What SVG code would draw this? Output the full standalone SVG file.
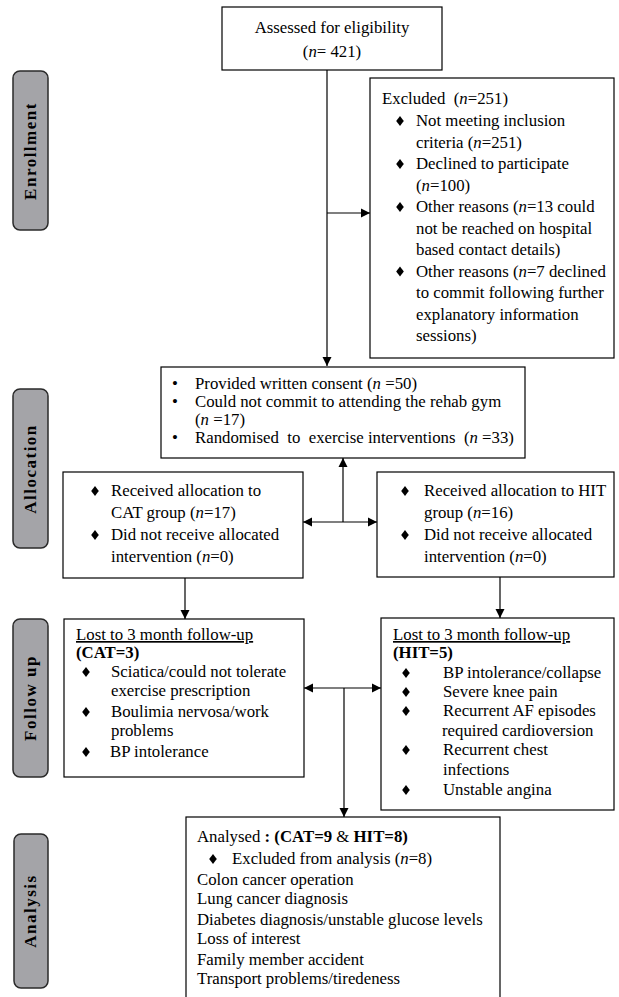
<svg xmlns="http://www.w3.org/2000/svg" xmlns:xlink="http://www.w3.org/1999/xlink" width="619" height="997" viewBox="0 0 619 997">
<defs>
<style>
.box{fill:#fff;stroke:#000;stroke-width:1.2}
.pill{fill:#a4a4a8;stroke:#2a2a2a;stroke-width:1.5}
.t{font-family:"Liberation Serif","Times New Roman",serif;font-size:16.8px;fill:#000}
.pt{font-family:"Liberation Serif","Times New Roman",serif;font-size:17px;font-weight:bold;fill:#000;letter-spacing:1.5px}
.i{font-style:italic}
.b{font-weight:bold}
.ln{stroke:#000;stroke-width:1.2;fill:none}
</style>
<polygon id="dia" points="0,-5 3.8,0 0,5 -3.8,0" fill="#000"/>
<marker id="ah" markerWidth="10" markerHeight="10" refX="9" refY="5" orient="auto" markerUnits="userSpaceOnUse">
<path d="M0,0.5 L9,5 L0,9.5 Z" fill="#000"/>
</marker>
<marker id="ahs" markerWidth="10" markerHeight="10" refX="0" refY="5" orient="auto" markerUnits="userSpaceOnUse">
<path d="M9,0.5 L0,5 L9,9.5 Z" fill="#000"/>
</marker>
</defs>
<rect width="619" height="997" fill="#fff"/>

<g id="phase-enrollment">
<rect class="pill" x="13" y="71" width="35" height="159" rx="7"/>
<text class="pt" transform="translate(36,151) rotate(-90)" text-anchor="middle">Enrollment</text>
</g>
<g id="phase-allocation">
<rect class="pill" x="13" y="389" width="35" height="159" rx="7"/>
<text class="pt" transform="translate(36,469) rotate(-90)" text-anchor="middle">Allocation</text>
</g>
<g id="phase-followup">
<rect class="pill" x="13" y="619" width="35" height="158" rx="7"/>
<text class="pt" transform="translate(36,698) rotate(-90)" text-anchor="middle">Follow up</text>
</g>
<g id="phase-analysis">
<rect class="pill" x="14" y="834" width="34" height="154" rx="7"/>
<text class="pt" transform="translate(36,911) rotate(-90)" text-anchor="middle">Analysis</text>
</g>

<g id="connectors">
<line class="ln" x1="327" y1="70" x2="327" y2="366" marker-end="url(#ah)"/>
<line class="ln" x1="327" y1="213" x2="370" y2="213" marker-end="url(#ah)"/>
<line class="ln" x1="343" y1="522" x2="343" y2="458" marker-end="url(#ah)"/>
<line class="ln" x1="303" y1="522" x2="377" y2="522" marker-start="url(#ahs)" marker-end="url(#ah)"/>
<line class="ln" x1="185" y1="578" x2="185" y2="619" marker-end="url(#ah)"/>
<line class="ln" x1="500" y1="577" x2="500" y2="618" marker-end="url(#ah)"/>
<line class="ln" x1="304" y1="688" x2="381" y2="688" marker-start="url(#ahs)" marker-end="url(#ah)"/>
<line class="ln" x1="344" y1="688" x2="344" y2="817" marker-end="url(#ah)"/>
</g>

<g id="assessed">
<rect class="box" x="222" y="7" width="220" height="63"/>
<text class="t" x="332" y="33" text-anchor="middle">Assessed for eligibility</text>
<text class="t" x="332" y="57" text-anchor="middle">(<tspan class="i">n</tspan>= 421)</text>
</g>

<g id="excluded">
<rect class="box" x="370" y="78" width="244" height="280"/>
<text class="t" x="382" y="104" xml:space="preserve">Excluded  (<tspan class="i">n</tspan>=251)</text>
<use href="#dia" x="400" y="121"/>
<text class="t" x="416" y="126">Not meeting inclusion</text>
<text class="t" x="416" y="147.5">criteria (<tspan class="i">n</tspan>=251)</text>
<use href="#dia" x="400" y="164"/>
<text class="t" x="416" y="169">Declined to participate</text>
<text class="t" x="416" y="190.5">(<tspan class="i">n</tspan>=100)</text>
<use href="#dia" x="400" y="207"/>
<text class="t" x="416" y="212">Other reasons (<tspan class="i">n</tspan>=13 could</text>
<text class="t" x="416" y="233.5">not be reached on hospital</text>
<text class="t" x="416" y="255">based contact details)</text>
<use href="#dia" x="400" y="271.5"/>
<text class="t" x="416" y="276.5">Other reasons (<tspan class="i">n</tspan>=7 declined</text>
<text class="t" x="416" y="298">to commit following further</text>
<text class="t" x="416" y="319.5">explanatory information</text>
<text class="t" x="416" y="341">sessions)</text>
</g>

<g id="consent">
<rect class="box" x="161" y="367" width="364" height="91"/>
<text class="t" x="172" y="389">•</text>
<text class="t" x="195" y="389">Provided written consent (<tspan class="i">n</tspan> =50)</text>
<text class="t" x="172" y="407">•</text>
<text class="t" x="195" y="407">Could not commit to attending the rehab gym</text>
<text class="t" x="195" y="425">(<tspan class="i">n</tspan> =17)</text>
<text class="t" x="172" y="443">•</text>
<text class="t" x="195" y="443" xml:space="preserve">Randomised  to  exercise interventions  (<tspan class="i">n</tspan> =33)</text>
</g>

<g id="cat-allocation">
<rect class="box" x="63" y="472" width="240" height="106"/>
<use href="#dia" x="95" y="491"/>
<text class="t" x="111" y="496">Received allocation to</text>
<text class="t" x="111" y="517.5">CAT group (<tspan class="i">n</tspan>=17)</text>
<use href="#dia" x="95" y="535"/>
<text class="t" x="111" y="540">Did not receive allocated</text>
<text class="t" x="111" y="561.5">intervention (<tspan class="i">n</tspan>=0)</text>
</g>

<g id="hit-allocation">
<rect class="box" x="377" y="472" width="237" height="105"/>
<use href="#dia" x="405" y="491"/>
<text class="t" x="424" y="496">Received allocation to HIT</text>
<text class="t" x="424" y="517.5">group (<tspan class="i">n</tspan>=16)</text>
<use href="#dia" x="405" y="535"/>
<text class="t" x="424" y="540">Did not receive allocated</text>
<text class="t" x="424" y="561.5">intervention (<tspan class="i">n</tspan>=0)</text>
</g>

<g id="cat-followup">
<rect class="box" x="64" y="619" width="240" height="158"/>
<text class="t" x="76" y="640" text-decoration="underline">Lost to 3 month follow-up</text>
<text class="t b" x="76" y="658">(CAT=3)</text>
<use href="#dia" x="86" y="672"/>
<text class="t" x="111" y="677">Sciatica/could not tolerate</text>
<text class="t" x="111" y="696">exercise prescription</text>
<use href="#dia" x="86" y="712"/>
<text class="t" x="111" y="717">Boulimia nervosa/work</text>
<text class="t" x="111" y="736">problems</text>
<use href="#dia" x="86" y="752"/>
<text class="t" x="110" y="757">BP intolerance</text>
</g>

<g id="hit-followup">
<rect class="box" x="381" y="618" width="233" height="192"/>
<text class="t" x="393" y="640" text-decoration="underline">Lost to 3 month follow-up</text>
<text class="t b" x="393" y="658">(HIT=5)</text>
<use href="#dia" x="406" y="673"/>
<text class="t" x="443" y="678">BP intolerance/collapse</text>
<use href="#dia" x="406" y="692"/>
<text class="t" x="443" y="697">Severe knee pain</text>
<use href="#dia" x="406" y="711"/>
<text class="t" x="443" y="716">Recurrent AF episodes</text>
<text class="t" x="442" y="736">required cardioversion</text>
<use href="#dia" x="406" y="750"/>
<text class="t" x="443" y="755">Recurrent chest</text>
<text class="t" x="443" y="775">infections</text>
<use href="#dia" x="406" y="790"/>
<text class="t" x="443" y="795">Unstable angina</text>
</g>

<g id="analysis">
<rect class="box" x="186" y="817" width="314" height="190"/>
<text class="t" x="197" y="842">Analysed <tspan class="b">: (CAT=9 </tspan>&amp; <tspan class="b">HIT=8)</tspan></text>
<use href="#dia" x="213" y="859"/>
<text class="t" x="232" y="864">Excluded from analysis (<tspan class="i">n</tspan>=8)</text>
<text class="t" x="197" y="885">Colon cancer operation</text>
<text class="t" x="197" y="904">Lung cancer diagnosis</text>
<text class="t" x="197" y="925">Diabetes diagnosis/unstable glucose levels</text>
<text class="t" x="197" y="944">Loss of interest</text>
<text class="t" x="197" y="965">Family member accident</text>
<text class="t" x="197" y="984">Transport problems/tiredeness</text>
</g>
</svg>
